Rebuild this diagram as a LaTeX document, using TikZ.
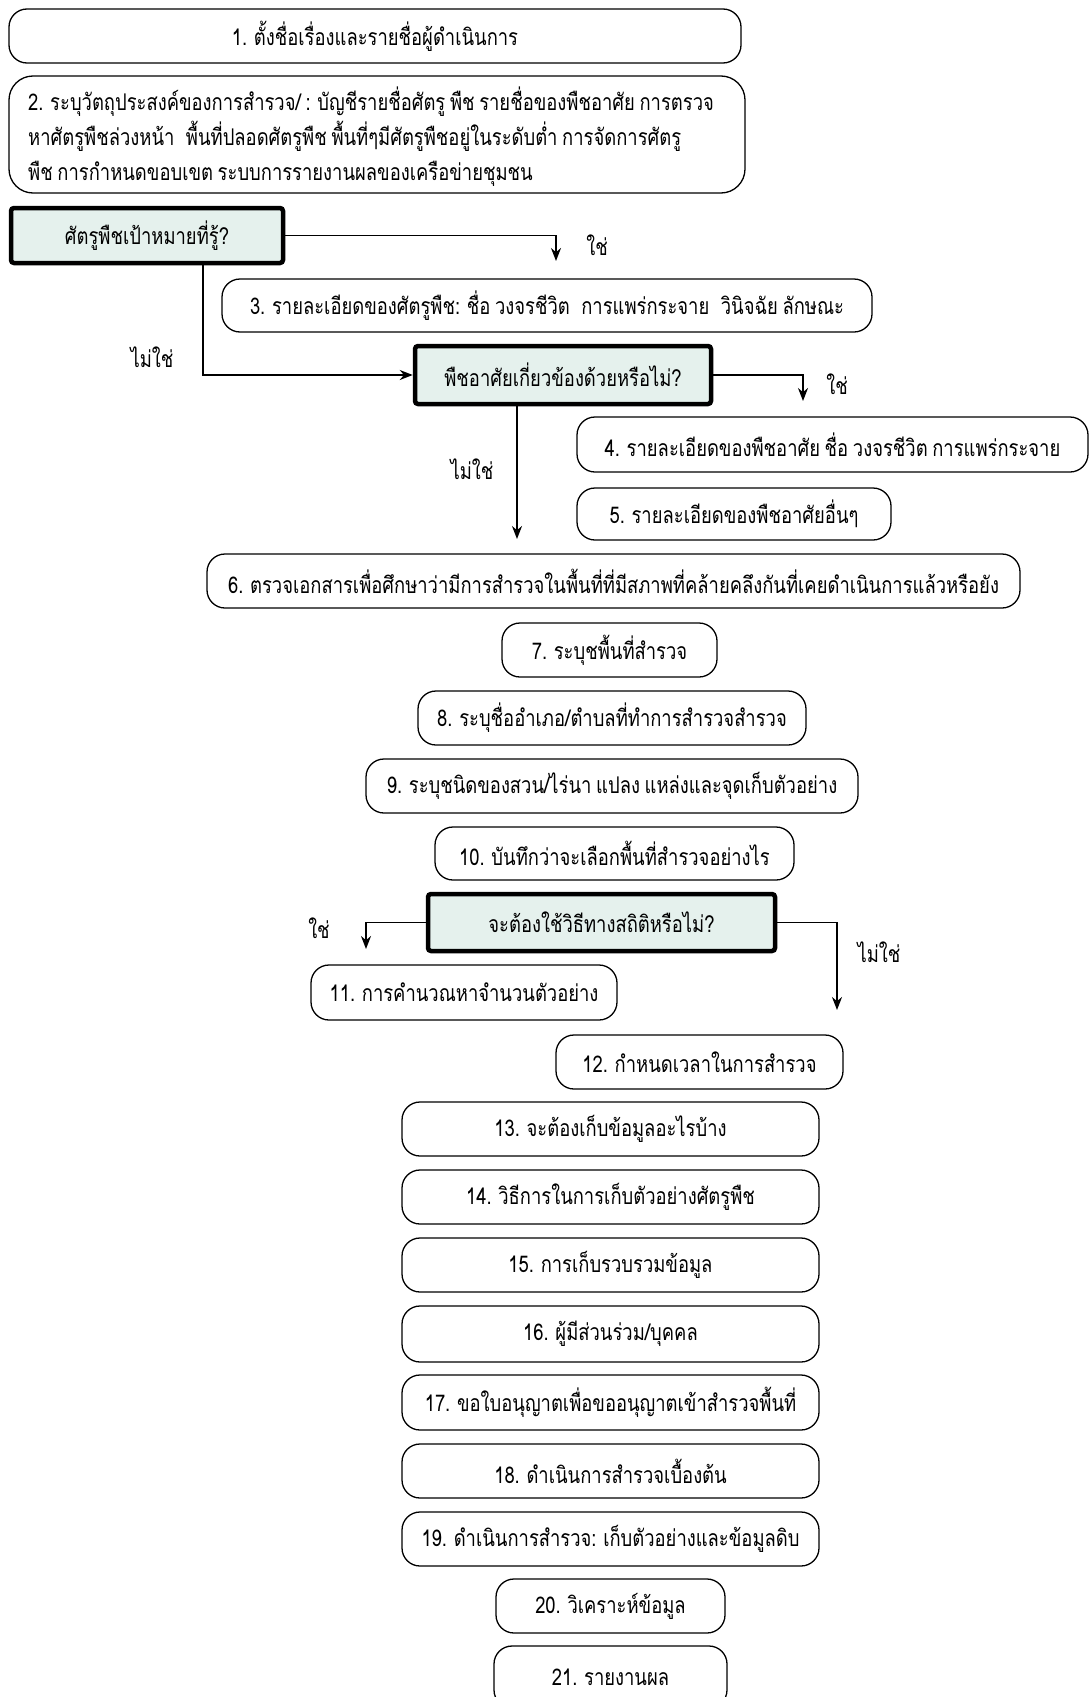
\documentclass[tikz,border=0pt]{standalone}
\usepackage{fontspec}
\setmainfont[Script=Thai, FakeStretch=0.8, WordSpace=0.75]{Loma}
\usetikzlibrary{arrows.meta}
\definecolor{decfill}{HTML}{E5F1ED}
\tikzset{
  flowbox/.style={draw=black, line width=1.3pt, rounded corners=18pt, fill=white, inner sep=0pt,
    font=\fontsize{23}{30}\selectfont},
  decbox/.style={draw=black, line width=4.5pt, rounded corners=3pt, fill=decfill, inner sep=0pt,
    font=\fontsize{23}{30}\selectfont},
  lbl/.style={font=\fontsize{23}{30}\selectfont, inner sep=0pt},
  conn/.style={draw=black, line width=1.6pt},
  arr/.style={conn, -{Stealth[length=13pt,width=10pt]}},
}
\begin{document}
\begin{tikzpicture}[x=1pt,y=-1pt]
\useasboundingbox (0,0) rectangle (1090,1697);
\begin{scope}
\clip (0,0) rectangle (1090,1697);
% boxes
\node[flowbox, minimum width=732pt, minimum height=54pt] (b1) at (375,36) {1. ตั้งชื่อเรื่องและรายชื่อผู้ดำเนินการ};
\node[flowbox, minimum width=736pt, minimum height=117pt, rounded corners=24pt] (b2) at (377,134.5) {};
\node[lbl, anchor=west, align=left, font=\fontsize{23}{35}\selectfont] (t2) at (28,137) {2. ระบุวัตถุประสงค์ของการสำรวจ/ : บัญชีรายชื่อศัตรู พืช รายชื่อของพืชอาศัย การตรวจ\\หาศัตรูพืชล่วงหน้า\enspace พื้นที่ปลอดศัตรูพืช พื้นที่ๆมีศัตรูพืชอยู่ในระดับต่ำ การจัดการศัตรู\\พืช การกำหนดขอบเขต ระบบการรายงานผลของเครือข่ายชุมชน};
\node[decbox, minimum width=272pt, minimum height=55pt] (d1) at (147,235.5) {ศัตรูพืชเป้าหมายที่รู้?};
\node[flowbox, minimum width=650pt, minimum height=53pt] (b3) at (547,305.5) {3. รายละเอียดของศัตรูพืช: ชื่อ วงจรชีวิต\enspace การแพร่กระจาย\enspace วินิจฉัย ลักษณะ};
\node[decbox, minimum width=296pt, minimum height=58pt] (d2) at (563,375) {พืชอาศัยเกี่ยวข้องด้วยหรือไม่?};
\node[flowbox, minimum width=511pt, minimum height=55pt] (b4) at (832.5,444.5) {4. รายละเอียดของพืชอาศัย ชื่อ วงจรชีวิต การแพร่กระจาย};
\node[flowbox, minimum width=314pt, minimum height=52pt] (b5) at (734,514) {5. รายละเอียดของพืชอาศัยอื่นๆ};
\node[flowbox, minimum width=813pt, minimum height=54pt] (b6) at (613.5,581) {6. ตรวจเอกสารเพื่อศึกษาว่ามีการสำรวจในพื้นที่ที่มีสภาพที่คล้ายคลึงกันที่เคยดำเนินการแล้วหรือยัง};
\node[flowbox, minimum width=215pt, minimum height=54pt] (b7) at (609.5,650) {7. ระบุชพื้นที่สำรวจ};
\node[flowbox, minimum width=388pt, minimum height=54pt] (b8) at (612,718) {8. ระบุชื่ออำเภอ/ตำบลที่ทำการสำรวจสำรวจ};
\node[flowbox, minimum width=492pt, minimum height=54pt] (b9) at (612,786) {9. ระบุชนิดของสวน/ไร่นา แปลง แหล่งและจุดเก็บตัวอย่าง};
\node[flowbox, minimum width=359pt, minimum height=53pt] (b10) at (614.5,853.5) {10. บันทึกว่าจะเลือกพื้นที่สำรวจอย่างไร};
\node[decbox, minimum width=347pt, minimum height=57pt] (d3) at (601.5,922.5) {จะต้องใช้วิธีทางสถิติหรือไม่?};
\node[flowbox, minimum width=306pt, minimum height=55pt] (b11) at (464,992.5) {11. การคำนวณหาจำนวนตัวอย่าง};
\node[flowbox, minimum width=287pt, minimum height=54pt] (b12) at (699.5,1062) {12. กำหนดเวลาในการสำรวจ};
\node[flowbox, minimum width=417pt, minimum height=54pt] (b13) at (610.5,1129) {13. จะต้องเก็บข้อมูลอะไรบ้าง};
\node[flowbox, minimum width=417pt, minimum height=54pt] (b14) at (610.5,1197) {14. วิธีการในการเก็บตัวอย่างศัตรูพืช};
\node[flowbox, minimum width=417pt, minimum height=54pt] (b15) at (610.5,1265) {15. การเก็บรวบรวมข้อมูล};
\node[flowbox, minimum width=417pt, minimum height=56pt] (b16) at (610.5,1334) {16. ผู้มีส่วนร่วม/บุคคล};
\node[flowbox, minimum width=417pt, minimum height=55pt] (b17) at (610.5,1402.5) {17. ขอใบอนุญาตเพื่อขออนุญาตเข้าสำรวจพื้นที่};
\node[flowbox, minimum width=417pt, minimum height=54pt] (b18) at (610.5,1471) {18. ดำเนินการสำรวจเบื้องต้น};
\node[flowbox, minimum width=417pt, minimum height=54pt] (b19) at (610.5,1539) {19. ดำเนินการสำรวจ: เก็บตัวอย่างและข้อมูลดิบ};
\node[flowbox, minimum width=229pt, minimum height=54pt] (b20) at (610.5,1606) {20. วิเคราะห์ข้อมูล};
\node[flowbox, minimum width=233pt, minimum height=62pt] (b21) at (610.5,1677) {21. รายงานผล};
% free ends
\coordinate (a1) at (556,261);
\coordinate (k1) at (203,377);
\coordinate (a2) at (803,401);
\coordinate (a3) at (517,539);
\coordinate (a4) at (366,949);
\coordinate (a5) at (837,1010);
% connectors
\draw[arr] (d1.east) -| (a1);
\draw[arr] (d1.south -| k1) |- (d2.west);
\draw[arr] (d2.east) -| (a2);
\draw[arr] (d2.south -| a3) -- (a3);
\draw[arr] (d3.west) -| (a4);
\draw[arr] (d3.east) -| (a5);
% labels
\node[lbl] (l1) at (597,245) {ใช่};
\node[lbl] (l2) at (152,357) {ไม่ใช่};
\node[lbl] (l3) at (837,384) {ใช่};
\node[lbl] (l4) at (472,469) {ไม่ใช่};
\node[lbl] (l5) at (319,928) {ใช่};
\node[lbl] (l6) at (879,952) {ไม่ใช่};
\end{scope}
\end{tikzpicture}
\end{document}
